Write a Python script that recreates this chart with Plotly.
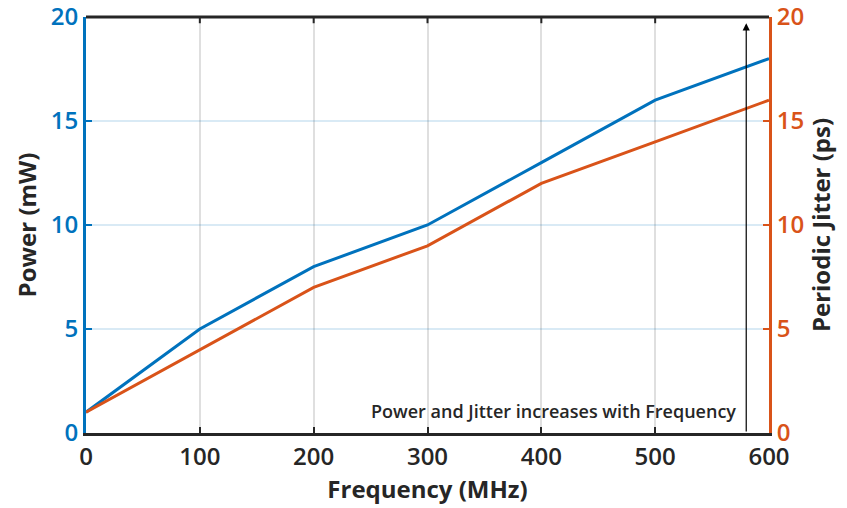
import plotly.graph_objects as go

freq = [0, 100, 200, 300, 400, 500, 600]
power_mw = [1, 5, 8, 10, 13, 16, 18]
jitter_ps = [1, 4, 7, 9, 12, 14, 16]
x_ticks = [0, 100, 200, 300, 400, 500, 600]
y_ticks = [0, 5, 10, 15, 20]

BLUE = "#0072BD"
ORANGE = "#D95319"
DARK = "#262626"
FONT = "Open Sans"

fig = go.Figure()
fig.add_trace(go.Scatter(x=freq, y=power_mw, mode="lines", name="Power",
                         line=dict(color=BLUE, width=3), yaxis="y"))
fig.add_trace(go.Scatter(x=freq, y=jitter_ps, mode="lines", name="Jitter",
                         line=dict(color=ORANGE, width=3), yaxis="y2"))

tickfont = dict(family=FONT, size=24, weight=600)
titlefont = dict(family=FONT, size=24, weight="bold")

fig.update_layout(
    width=847, height=508,
    margin=dict(l=86, r=78, t=17, b=75),
    paper_bgcolor="white", plot_bgcolor="white",
    showlegend=False,
    xaxis=dict(
        range=[0, 600], tickvals=x_ticks, ticks="inside", ticklen=6, tickwidth=2,
        tickcolor=DARK, showline=True, linecolor=DARK, linewidth=3,
        showgrid=True, gridcolor="rgba(38,38,38,0.15)", gridwidth=2,
        zeroline=False, tickfont=dict(color=DARK, **tickfont),
        ticklabeloverflow="allow", automargin=False,
        title=dict(text="Frequency (MHz)", font=dict(color=DARK, **titlefont), standoff=6),
    ),
    yaxis=dict(
        range=[0, 20], tickvals=y_ticks, ticks="inside", ticklen=6, tickwidth=2,
        tickcolor=BLUE, showline=True, linecolor=BLUE, linewidth=3,
        showgrid=True, gridcolor="rgba(0,114,189,0.15)", gridwidth=2,
        zeroline=False, tickfont=dict(color=BLUE, **tickfont), ticksuffix=" ",
        ticklabeloverflow="allow", automargin=False,
        title=dict(text="Power (mW)", font=dict(color=DARK, **titlefont), standoff=8),
    ),
    yaxis2=dict(
        range=[0, 20], tickvals=y_ticks, ticks="inside", ticklen=6, tickwidth=2,
        tickcolor=ORANGE, showline=True, linecolor=ORANGE, linewidth=3,
        overlaying="y", side="right", showgrid=False, zeroline=False,
        tickfont=dict(color=ORANGE, **tickfont), tickprefix=" ",
        ticklabeloverflow="allow", automargin=False,
        title=dict(text="Periodic Jitter (ps)", font=dict(color=DARK, **titlefont), standoff=8),
    ),
)

# Top frame edge and its inward ticks
fig.add_shape(type="line", xref="paper", yref="paper", x0=0, x1=1, y0=1, y1=1,
              line=dict(color=DARK, width=3), layer="above")
for t in x_ticks[1:-1]:
    fig.add_shape(type="line", xref="x", yref="paper", x0=t, x1=t, y0=1, y1=0.985,
                  line=dict(color=DARK, width=2), layer="above")

# Arrow pointing upward with its caption
fig.add_annotation(x=580, y=19.7, ax=580, ay=0, xref="x", yref="y", axref="x", ayref="y",
                   showarrow=True, arrowhead=2, arrowsize=1.2, arrowwidth=1.2,
                   arrowcolor="black", text="")
fig.add_annotation(x=573, y=1.05, xref="x", yref="y", xanchor="right", yanchor="middle",
                   showarrow=False, text="Power and Jitter increases with Frequency",
                   font=dict(family=FONT, size=18, weight=600, color=DARK))

fig.write_html("out.html")
